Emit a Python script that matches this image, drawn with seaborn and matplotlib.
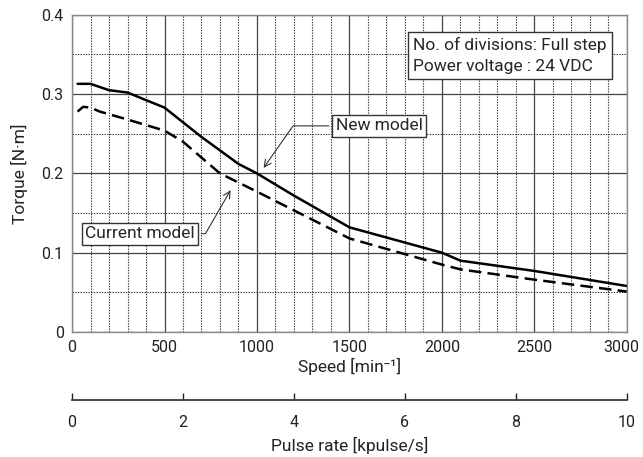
import seaborn as sns
import matplotlib.pyplot as plt
from matplotlib.ticker import MultipleLocator
from matplotlib.transforms import ScaledTranslation
import pandas as pd

# speed [min-1] vs torque [N·m]
new_speed = [30, 100, 200, 300, 500, 700, 900, 1000, 1200, 1500, 2000, 2100, 2500, 3000]
new_torque = [0.313, 0.313, 0.305, 0.302, 0.283, 0.246, 0.212, 0.200, 0.172, 0.132, 0.100, 0.090, 0.077, 0.058]

cur_speed = [30, 60, 100, 150, 300, 500, 600, 700, 800, 1000, 1500, 2000, 2100, 2500, 3000]
cur_torque = [0.278, 0.284, 0.283, 0.278, 0.268, 0.254, 0.240, 0.220, 0.200, 0.177, 0.118, 0.085, 0.079, 0.066, 0.051]

speed_ticks = [0, 500, 1000, 1500, 2000, 2500, 3000]
pulse_ticks = [0, 2, 4, 6, 8, 10]
info_text = "No. of divisions: Full step\nPower voltage : 24 VDC"

df = pd.concat([
    pd.DataFrame({"Speed": new_speed, "Torque": new_torque, "Model": "New model"}),
    pd.DataFrame({"Speed": cur_speed, "Torque": cur_torque, "Model": "Current model"}),
])

sns.set_theme(style="white")
plt.rcParams['font.family'] = ['Roboto', 'DejaVu Sans']
fs = 12.5
tick_fs = 11.5

fig = plt.figure(figsize=(6.43, 4.57), dpi=100)
ax = fig.add_axes([0.112, 0.2735, 0.863, 0.694])

sns.lineplot(data=df, x="Speed", y="Torque", style="Model", color="black",
             linewidth=1.8, dashes={"New model": "", "Current model": (5, 2.5)},
             legend=False, ax=ax)

ax.set_xlim(0, 3000)
ax.set_ylim(0, 0.4)
ax.set_xticks(speed_ticks)
ax.xaxis.set_minor_locator(MultipleLocator(100))
ax.yaxis.set_minor_locator(MultipleLocator(0.05))
ax.set_yticks([0, 0.1, 0.2, 0.3, 0.4], ["0", "0.1", "0.2", "0.3", "0.4"])
ax.grid(True, which="major", color="#444444", linewidth=0.9, linestyle="-")
ax.grid(True, which="minor", color="#333333", linewidth=0.8, linestyle=(0, (1.2, 1.2)))
ax.set_axisbelow(True)
ax.tick_params(which="both", length=0, labelsize=tick_fs, colors="#222222", pad=6)
for s in ax.spines.values():
    s.set_color("#888888")
    s.set_linewidth(1)

# keep "3000" inside the figure edge
last = ax.get_xticklabels()[-1]
last.set_transform(last.get_transform() + ScaledTranslation(-6 / 100, 0, fig.dpi_scale_trans))

ax.set_xlabel("Speed [min⁻¹]", fontsize=fs, color="#222222", labelpad=2)
ax.set_ylabel("Torque [N·m]", fontsize=fs, color="#222222", labelpad=10)

# pulse rate axis below
sec = ax.secondary_xaxis(-0.215, functions=(lambda s: s / 300, lambda p: p * 300))
sec.set_xticks(pulse_ticks)
sec.tick_params(direction="in", length=5, width=1, labelsize=tick_fs, colors="#222222", pad=11)
sec.spines["bottom"].set_color("#333333")
sec.set_xlabel("Pulse rate [kpulse/s]", fontsize=fs, color="#222222", labelpad=5)

box = dict(boxstyle="square,pad=0.2", fc="white", ec="#333333", lw=1)
ax.annotate("New model", xy=(1027, 0.204), xytext=(1425, 0.26), fontsize=fs,
            va="center", ha="left", bbox=box,
            arrowprops=dict(arrowstyle="->", color="#333333", lw=0.8,
                            connectionstyle="angle,angleA=0,angleB=55,rad=0"))
ax.annotate("Current model", xy=(865, 0.182), xytext=(665, 0.124), fontsize=fs,
            va="center", ha="right", bbox=box,
            arrowprops=dict(arrowstyle="->", color="#333333", lw=0.8,
                            connectionstyle="angle,angleA=0,angleB=60,rad=0"))
ax.text(1845, 0.349, info_text, fontsize=fs, va="center", ha="left",
        linespacing=1.45, bbox=dict(boxstyle="square,pad=0.3", fc="white", ec="#333333", lw=1))

fig.savefig("out.png", dpi=100)
